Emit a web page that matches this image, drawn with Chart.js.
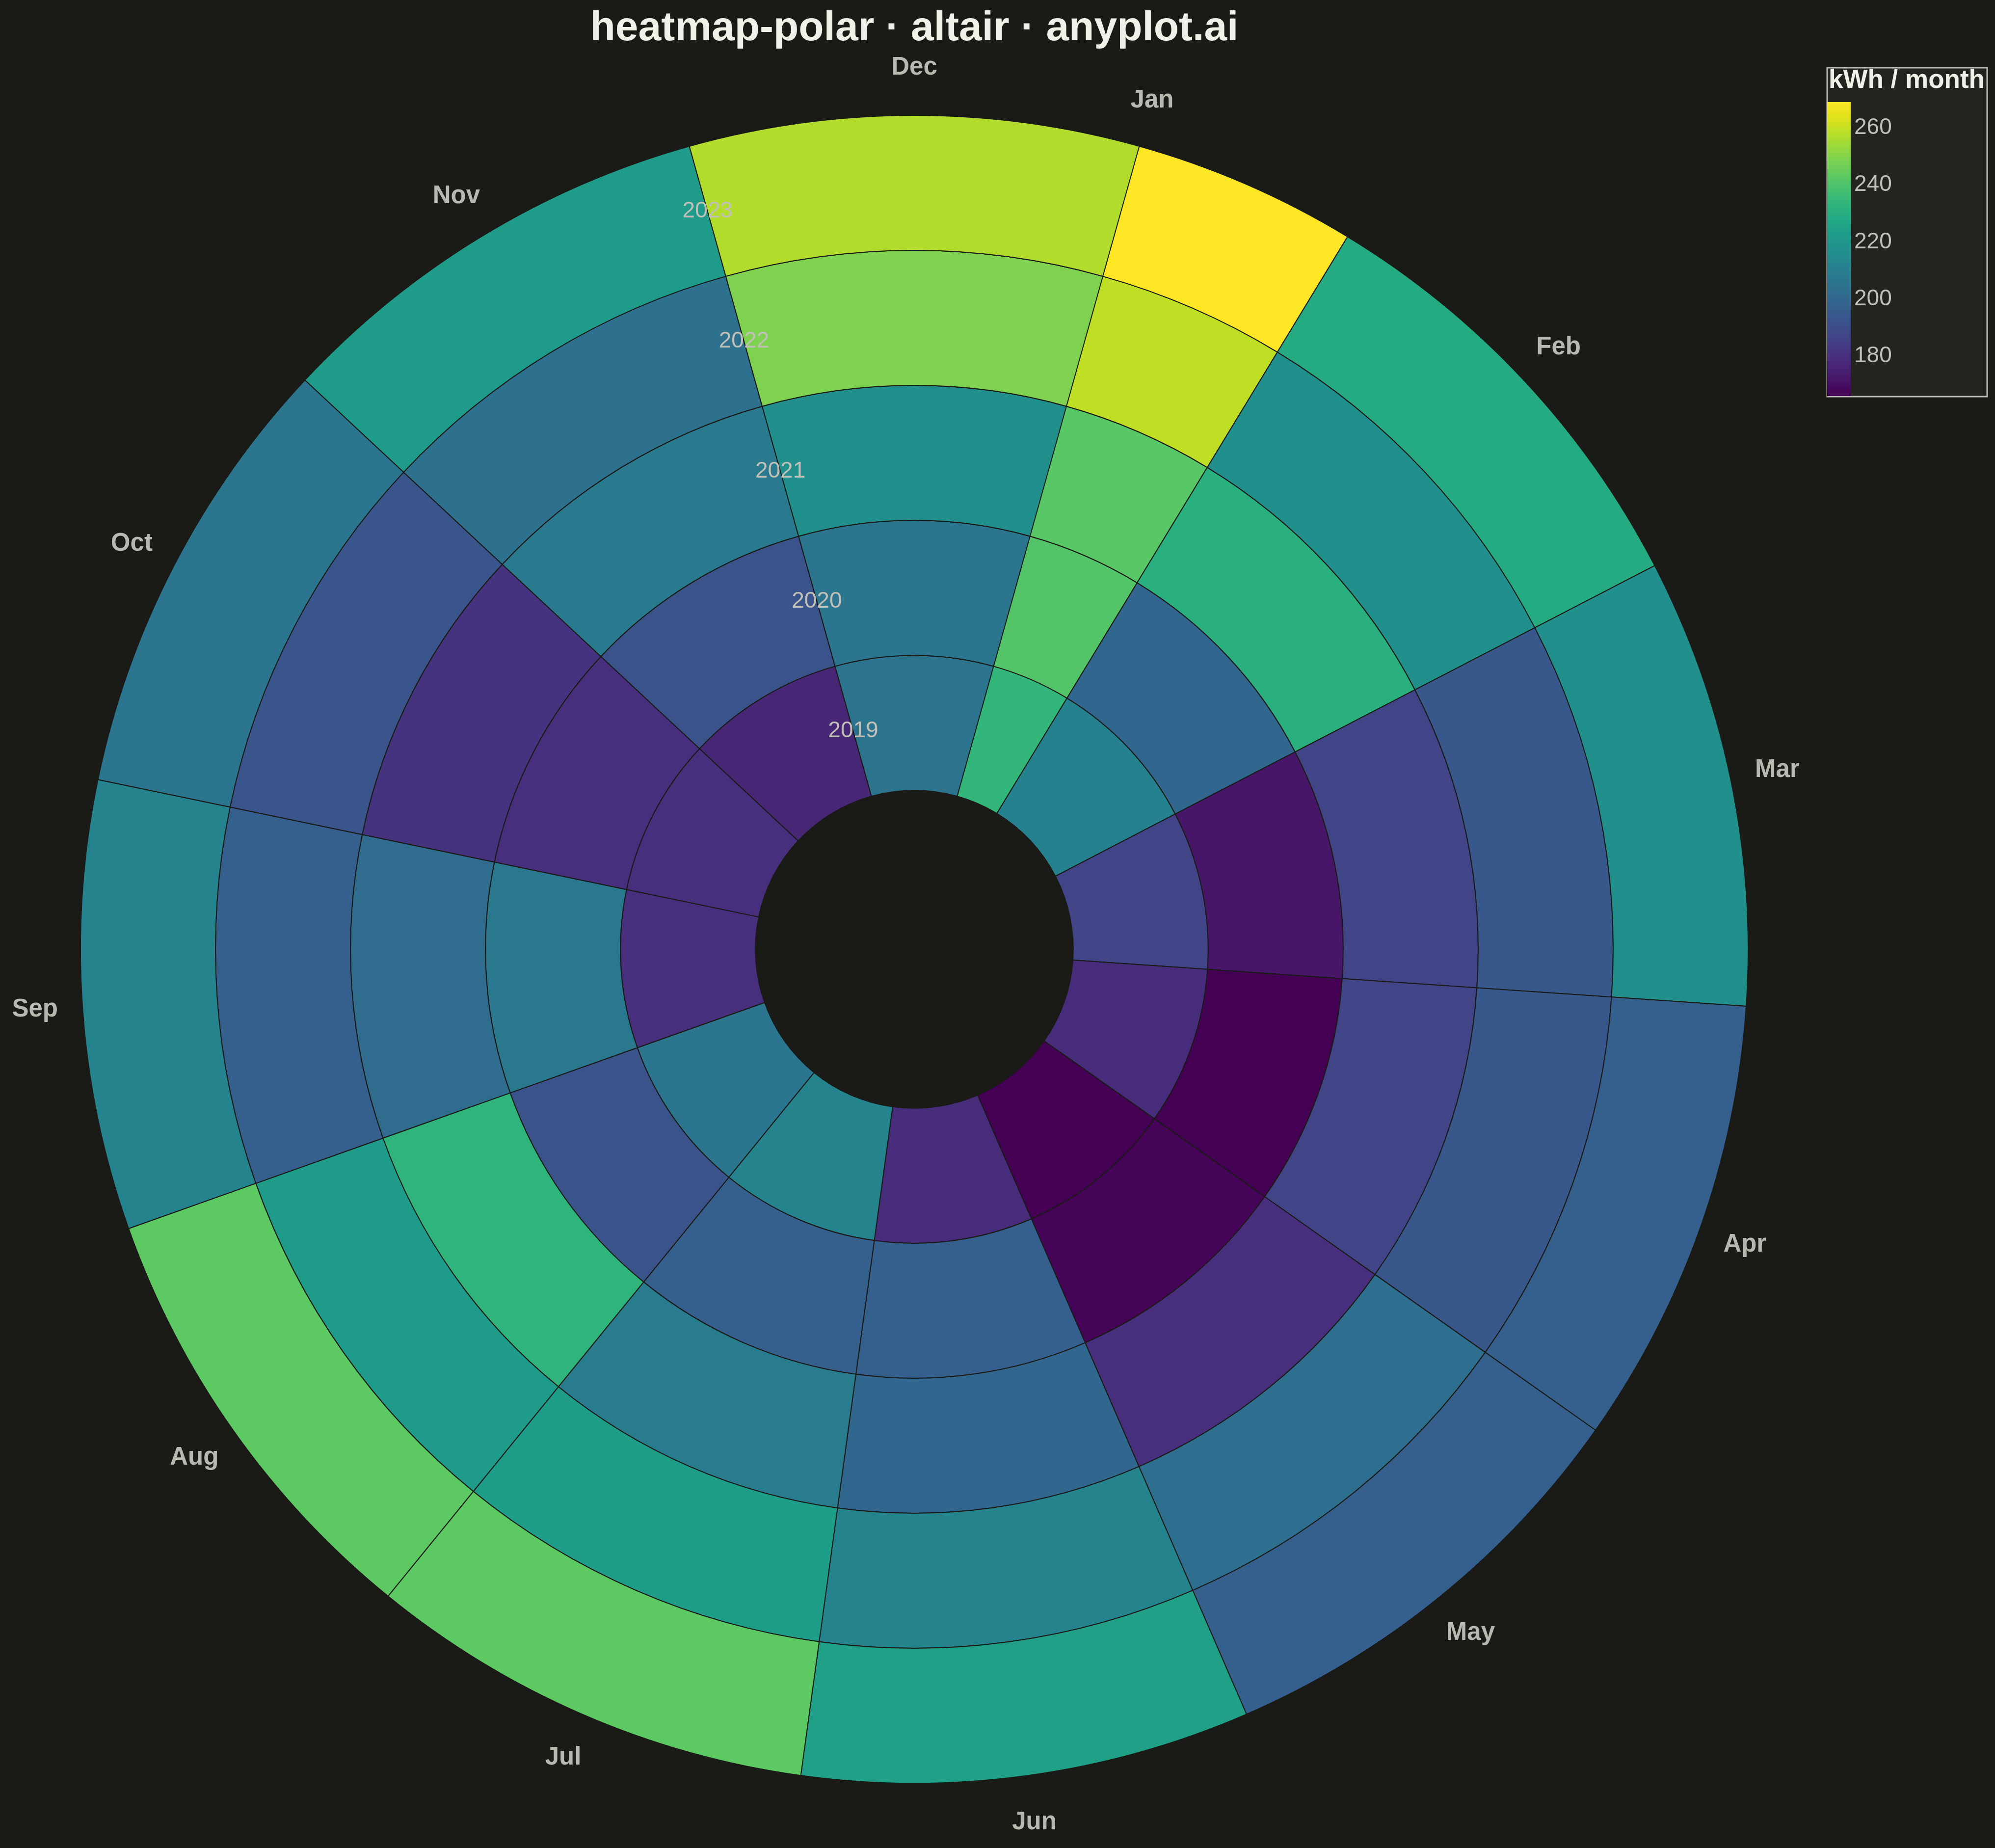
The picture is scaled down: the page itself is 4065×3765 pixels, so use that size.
<!DOCTYPE html>
<html>
<head>
<meta charset="utf-8">
<script src="https://cdn.jsdelivr.net/npm/chart.js@4.4.0/dist/chart.umd.min.js"></script>
<style>
  html, body { margin: 0; padding: 0; background: #1a1a17; }
  canvas { display: block; }
</style>
</head>
<body>
<canvas id="heatmapPolar" width="4065" height="3765"></canvas>
<script>
// months go clockwise from the top, one ring per year (2019 innermost)
const months = ['Jan', 'Feb', 'Mar', 'Apr', 'May', 'Jun', 'Jul', 'Aug', 'Sep', 'Oct', 'Nov', 'Dec'];
const years = ['2019', '2020', '2021', '2022', '2023'];

// kWh per month, Jan..Dec
const kwh2019 = [234, 211, 187, 179, 166, 179, 212, 206, 180, 180, 177, 205];
const kwh2020 = [241, 200, 172, 166, 167, 197, 197, 192, 207, 180, 192, 206];
const kwh2021 = [242, 231, 187, 187, 180, 200, 209, 233, 202, 181, 208, 217];
const kwh2022 = [259, 217, 194, 194, 203, 212, 223, 222, 197, 193, 204, 249];
const kwh2023 = [269, 229, 217, 197, 197, 225, 243, 243, 212, 206, 222, 257];

const colorMin = 166;
const colorMax = 269;
const legendTicks = [180, 200, 220, 240, 260];

const viridisStops = ['#440154', '#471365', '#482475', '#463480', '#414487', '#3b528b', '#355f8d',
  '#2f6c8e', '#2a788e', '#25848e', '#21918c', '#1e9c89', '#22a884', '#2fb47c', '#44bf70',
  '#5ec962', '#7ad151', '#9bd93c', '#bddf26', '#dfe318', '#fde725'];

function hexRgb(h) {
  return [parseInt(h.slice(1, 3), 16), parseInt(h.slice(3, 5), 16), parseInt(h.slice(5, 7), 16)];
}

function viridis(v) {
  let t = (v - colorMin) / (colorMax - colorMin);
  t = Math.max(0, Math.min(1, t));
  const pos = t * (viridisStops.length - 1);
  const i = Math.min(Math.floor(pos), viridisStops.length - 2);
  const f = pos - i;
  const a = hexRgb(viridisStops[i]), b = hexRgb(viridisStops[i + 1]);
  const c = a.map((x, k) => Math.round(x + (b[k] - x) * f));
  return `rgb(${c[0]}, ${c[1]}, ${c[2]})`;
}

const BG = '#1a1a17';
const FONT = '"Liberation Sans", Arial, sans-serif';

// doughnut draws dataset 0 outermost, so newest year first
const rings = [
  { year: '2023', values: kwh2023 },
  { year: '2022', values: kwh2022 },
  { year: '2021', values: kwh2021 },
  { year: '2020', values: kwh2020 },
  { year: '2019', values: kwh2019 },
];

// band angle used by the original: 360 / 11.5 per month
const band = 360 / (months.length - 0.5);

const labelsPlugin = {
  id: 'polarLabels',
  afterDraw(chart) {
    const ctx = chart.ctx;
    const outer = chart.getDatasetMeta(0).data[0];
    const cx = outer.x, cy = outer.y;
    const R = outer.outerRadius;
    const toXY = (deg, r) => {
      const a = deg * Math.PI / 180;
      return [cx + r * Math.sin(a), cy - r * Math.cos(a)];
    };
    ctx.save();

    // title
    ctx.fillStyle = '#f0f0e8';
    ctx.font = 'bold 84px ' + FONT;
    ctx.textAlign = 'center';
    ctx.textBaseline = 'alphabetic';
    ctx.fillText('heatmap-polar \u00b7 altair \u00b7 anyplot.ai', cx, 82);

    // month labels
    ctx.fillStyle = '#b8b8b0';
    ctx.font = 'bold 51px ' + FONT;
    ctx.textBaseline = 'middle';
    months.forEach((m, i) => {
      const [x, y] = toXY((i + 0.5) * band, R + 97);
      ctx.fillText(m, x, y);
    });

    // year labels on the Nov/Dec edge
    ctx.fillStyle = '#c0c0b8';
    ctx.font = '46px ' + FONT;
    rings.forEach((ring, d) => {
      const arc = chart.getDatasetMeta(d).data[0];
      const [x, y] = toXY(11 * band, (arc.innerRadius + arc.outerRadius) / 2);
      ctx.fillText(ring.year, x, y);
    });

    // colour legend
    const bx = 3723, by = 138, bw = 326, bh = 670;
    ctx.fillStyle = '#232420';
    ctx.fillRect(bx, by, bw, bh);
    ctx.strokeStyle = '#bcbcb4';
    ctx.lineWidth = 3;
    ctx.strokeRect(bx, by, bw, bh);

    const gTop = 208, gBot = 807, gW = 48;
    const grad = ctx.createLinearGradient(0, gBot, 0, gTop);
    viridisStops.forEach((c, i) => grad.addColorStop(i / (viridisStops.length - 1), c));
    ctx.fillStyle = grad;
    ctx.fillRect(bx, gTop, gW, gBot - gTop);

    ctx.fillStyle = '#f0f0e8';
    ctx.font = 'bold 53px ' + FONT;
    ctx.textAlign = 'left';
    ctx.textBaseline = 'alphabetic';
    ctx.fillText('kWh / month', bx + 3, 179);

    ctx.fillStyle = '#c0c0b8';
    ctx.font = '46px ' + FONT;
    ctx.textBaseline = 'middle';
    legendTicks.forEach(v => {
      const y = gBot - (v - colorMin) / (colorMax - colorMin) * (gBot - gTop);
      ctx.fillText(String(v), bx + 55, y);
    });

    ctx.restore();
  }
};

new Chart(document.getElementById('heatmapPolar'), {
  type: 'doughnut',
  data: {
    labels: months,
    datasets: rings.map(ring => ({
      label: ring.year,
      data: months.map(() => 1),   // equal angular band per month
      kwh: ring.values,
      backgroundColor: ring.values.map(viridis),
      borderColor: BG,
      borderWidth: 2,
      hoverOffset: 0
    }))
  },
  options: {
    responsive: false,
    animation: false,
    devicePixelRatio: 1,
    rotation: 0,
    circumference: band * months.length,
    cutout: '19.06%',
    layout: { padding: { left: 163, right: 502, top: 234, bottom: 131 } },
    plugins: {
      legend: { display: false },
      title: { display: false },
      tooltip: {
        callbacks: {
          label: c => `${c.dataset.label} ${c.label}: ${c.dataset.kwh[c.dataIndex]} kWh`
        }
      }
    }
  },
  plugins: [labelsPlugin]
});
</script>
</body>
</html>
